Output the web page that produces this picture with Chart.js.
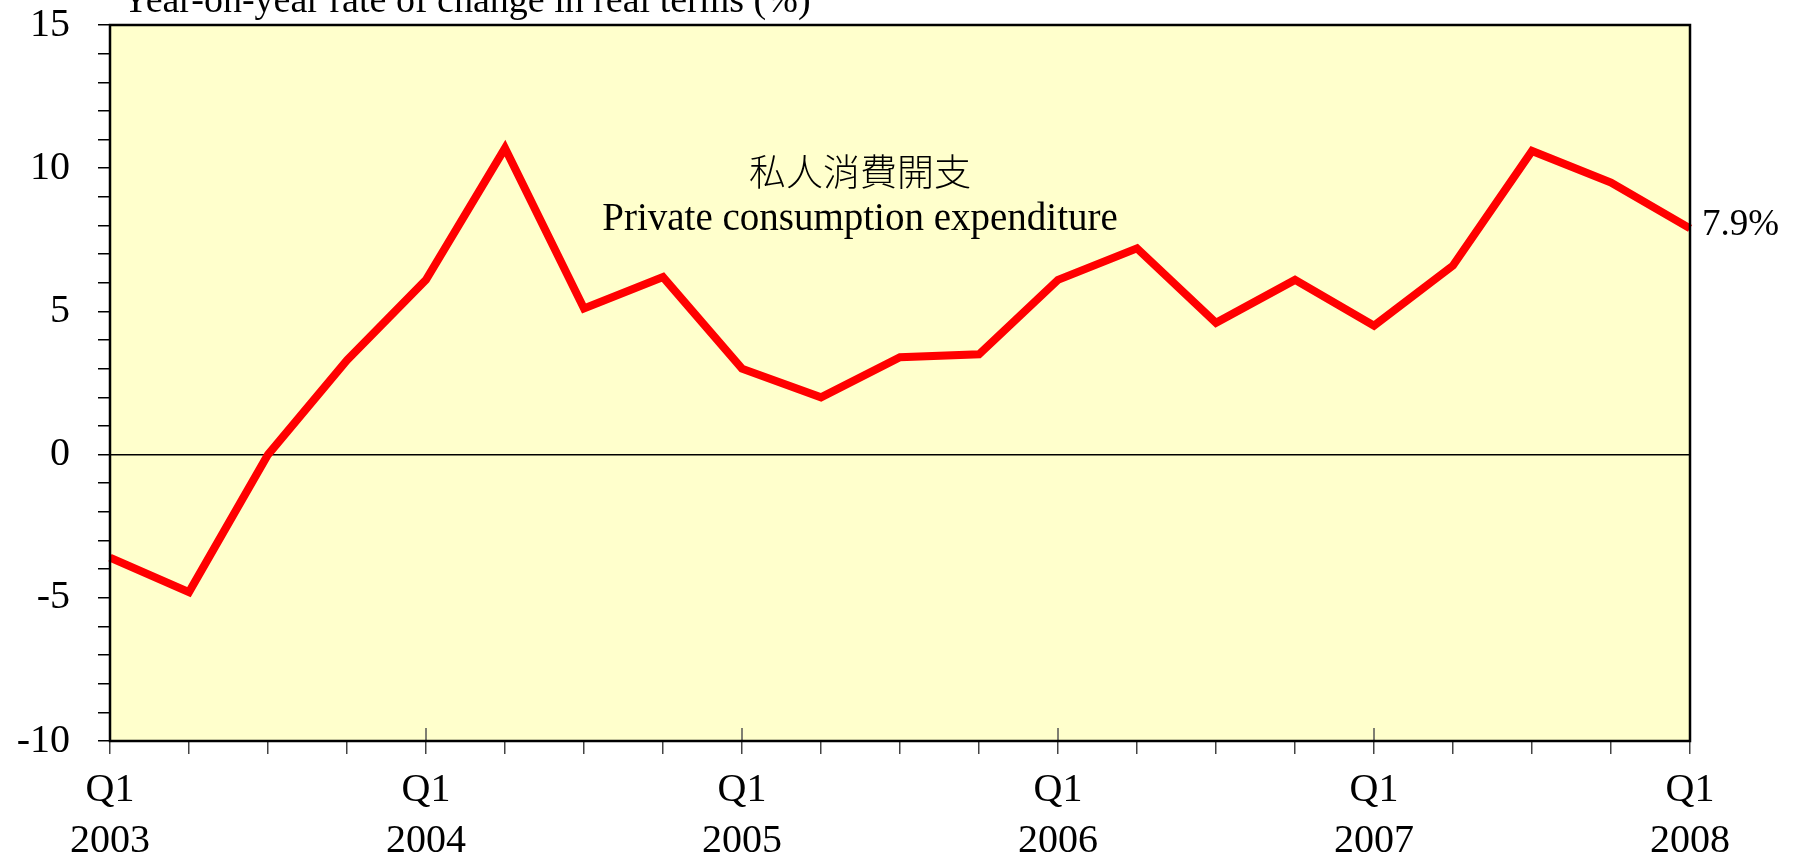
<!DOCTYPE html>
<html>
<head>
<meta charset="utf-8">
<script src="https://cdn.jsdelivr.net/npm/chart.js@4.4.0/dist/chart.umd.min.js"></script>
<style>
  body { margin: 0; background: #fff; }
  #wrap { width: 1796px; height: 860px; }
</style>
</head>
<body>
<div id="wrap"><canvas id="myChart" width="1796" height="860"></canvas></div>
<script>
// data
const quarters = [
  '2003 Q1', '2003 Q2', '2003 Q3', '2003 Q4',
  '2004 Q1', '2004 Q2', '2004 Q3', '2004 Q4',
  '2005 Q1', '2005 Q2', '2005 Q3', '2005 Q4',
  '2006 Q1', '2006 Q2', '2006 Q3', '2006 Q4',
  '2007 Q1', '2007 Q2', '2007 Q3', '2007 Q4',
  '2008 Q1'
];
const growth = [-3.6, -4.8, 0.0, 3.3, 6.1, 10.7, 5.1, 6.2, 3.0, 2.0, 3.4, 3.5,
  6.1, 7.2, 4.6, 6.1, 4.5, 6.6, 10.6, 9.5, 7.9];
const yMin = -10, yMax = 15, yLabelStep = 5;
const yTitle = 'Year-on-year rate of change in real terms (%)';
const nameZh = '私人消費開支';
const nameEn = 'Private consumption expenditure';

const serif = "'Liberation Serif', 'Times New Roman', serif";

const decor = {
  id: 'decor',
  beforeDraw(chart) {
    const { ctx, chartArea: a } = chart;
    ctx.save();
    ctx.fillStyle = '#ffffcc';
    ctx.fillRect(a.left, a.top, a.right - a.left, a.bottom - a.top);
    ctx.restore();
  },
  afterDraw(chart) {
    const { ctx, chartArea: a } = chart;
    const xs = chart.scales.x, ys = chart.scales.y;
    ctx.save();
    // short Q1 ticks inside the plot
    ctx.strokeStyle = '#555';
    ctx.lineWidth = 1.5;
    quarters.forEach((q, i) => {
      if (!q.endsWith('Q1')) return;
      const x = xs.getPixelForValue(i);
      ctx.beginPath();
      ctx.moveTo(x, a.bottom);
      ctx.lineTo(x, a.bottom - 13);
      ctx.stroke();
    });
    // frame
    ctx.strokeStyle = '#000';
    ctx.lineWidth = 2.5;
    ctx.strokeRect(a.left, a.top, a.right - a.left, a.bottom - a.top);

    ctx.fillStyle = '#000';
    ctx.font = '38px ' + serif;
    ctx.textAlign = 'left';
    ctx.textBaseline = 'alphabetic';
    ctx.fillText(yTitle, 122, 12);

    // last value label
    const last = growth.length - 1;
    ctx.font = '37px ' + serif;
    ctx.textBaseline = 'middle';
    ctx.fillText(growth[last].toFixed(1) + '%', a.right + 12, ys.getPixelForValue(growth[last]) - 3);

    // series name
    ctx.textAlign = 'center';
    ctx.font = "300 37px 'Noto Sans CJK TC', sans-serif";
    ctx.fillText(nameZh, 860, 172);
    ctx.font = '39px ' + serif;
    ctx.fillText(nameEn, 860, 220);
    ctx.restore();
  }
};

new Chart(document.getElementById('myChart'), {
  type: 'line',
  data: {
    labels: quarters,
    datasets: [{
      data: growth,
      borderColor: '#ff0000',
      borderWidth: 8,
      pointRadius: 0,
      tension: 0,
      fill: false
    }]
  },
  options: {
    responsive: false,
    animation: false,
    devicePixelRatio: 1,
    layout: { padding: { top: 25, right: 106, left: 0, bottom: 0 } },
    plugins: { legend: { display: false }, tooltip: { enabled: false } },
    scales: {
      x: {
        afterFit: s => { s.height = 119; s.paddingLeft = 0; s.paddingRight = 0; },
        border: { display: false },
        grid: { drawOnChartArea: false, tickLength: 13, tickColor: '#444', lineWidth: 1.5 },
        ticks: {
          autoSkip: false, maxRotation: 0, padding: 11, color: '#000',
          font: { family: serif, size: 40, lineHeight: 1.275 },
          callback: function (v) {
            const l = this.getLabelForValue(v);
            return l.endsWith('Q1') ? ['Q1', l.slice(0, 4)] : '';
          }
        }
      },
      y: {
        min: yMin, max: yMax,
        afterFit: s => { s.width = 110; s.paddingTop = 0; s.paddingBottom = 0; },
        border: { display: false },
        grid: {
          color: c => (c.tick && c.tick.value === 0 ? '#000' : 'rgba(0,0,0,0)'),
          tickColor: '#000', lineWidth: 1.5, tickLength: 12
        },
        ticks: {
          stepSize: 1, autoSkip: false, padding: 28, color: '#000',
          font: { family: serif, size: 40 },
          callback: v => (v % yLabelStep === 0 ? v : '')
        }
      }
    }
  },
  plugins: [decor]
});
</script>
</body>
</html>
